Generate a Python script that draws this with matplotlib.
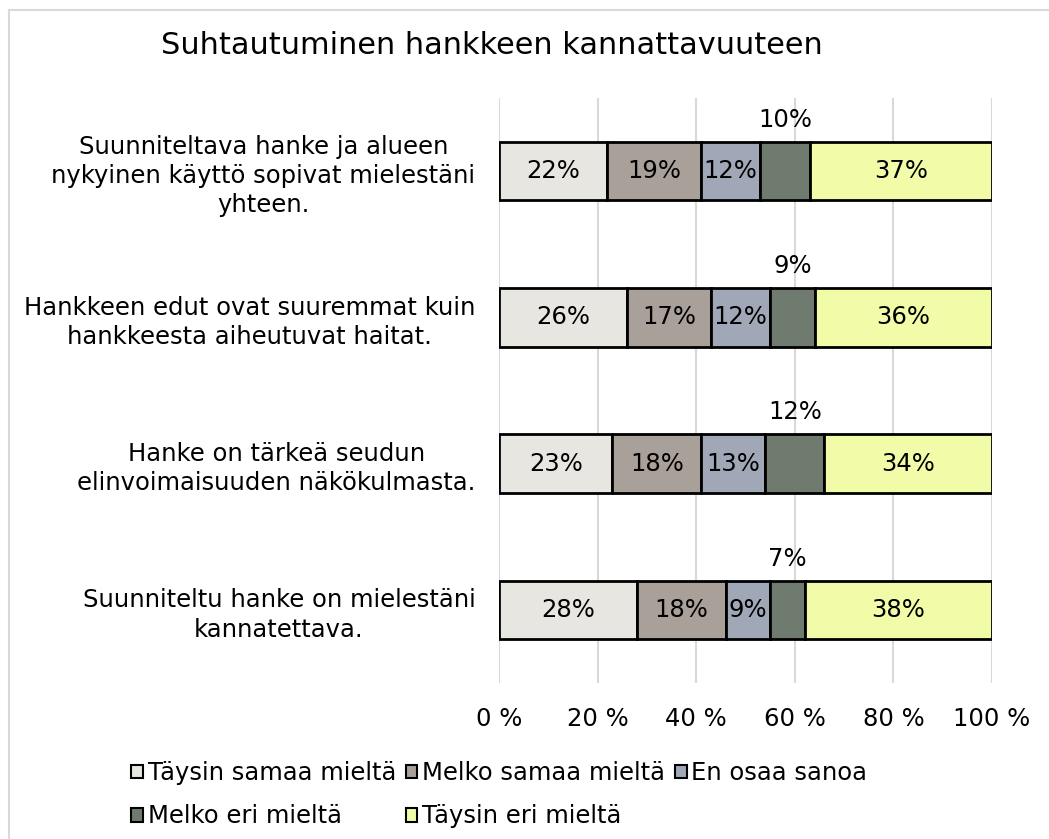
import matplotlib
matplotlib.use("Agg")
import matplotlib.pyplot as plt
from matplotlib.patches import Patch
from matplotlib.lines import Line2D
import numpy as np

plt.rcParams['font.family'] = ['DejaVu Sans']

title = "Suhtautuminen hankkeen kannattavuuteen"
categories = [
    "Suunniteltava hanke ja alueen\nnykyinen käyttö sopivat mielestäni\nyhteen.",
    "Hankkeen edut ovat suuremmat kuin\nhankkeesta aiheutuvat haitat.",
    "Hanke on tärkeä seudun\nelinvoimaisuuden näkökulmasta.",
    "Suunniteltu hanke on mielestäni\nkannatettava.",
]
series_names = ["Täysin samaa mieltä", "Melko samaa mieltä", "En osaa sanoa",
                "Melko eri mieltä", "Täysin eri mieltä"]
taysin_samaa = [22, 26, 23, 28]
melko_samaa = [19, 17, 18, 18]
en_osaa = [12, 12, 13, 9]
melko_eri = [10, 9, 12, 7]
taysin_eri = [37, 36, 34, 38]
series = [taysin_samaa, melko_samaa, en_osaa, melko_eri, taysin_eri]
colors = ["#E8E6E0", "#A9A09A", "#A0A8B8", "#707B6F", "#F2FCA8"]
xticks = [0, 20, 40, 60, 80, 100]
xticklabels = ["0 %", "20 %", "40 %", "60 %", "80 %", "100 %"]

FS = 17.5
W, H = 1049, 839
fig = plt.figure(figsize=(W / 100, H / 100), dpi=100)
ax = fig.add_axes([499 / W, 1 - 683 / H, (992 - 499) / W, (683 - 98) / H])

y = np.arange(len(categories))
left = np.zeros(len(categories))
for si, (vals, c, name) in enumerate(zip(series, colors, series_names)):
    vals = np.array(vals, dtype=float)
    ax.barh(y, vals, left=left, height=0.4, color=c, edgecolor="black",
            linewidth=2, zorder=3)
    for yi, l, v in zip(y, left, vals):
        if si == 3:
            # small segment: label above the bar
            ax.text(l + v / 2, yi - 0.35, f"{int(v)}%", ha="center", va="center",
                    fontsize=FS, color="black", zorder=4)
        else:
            ax.text(l + v / 2, yi, f"{int(v)}%", ha="center", va="center",
                    fontsize=FS, color="black", zorder=4)
    left += vals

ax.set_xlim(0, 100)
ax.set_ylim(len(categories) - 0.5, -0.5)
ax.set_xticks(xticks)
ax.set_xticklabels(xticklabels, fontsize=FS)
ax.set_yticks(y)
ax.set_yticklabels(categories, fontsize=FS, multialignment="center",
                   linespacing=1.27)
ax.tick_params(axis="both", length=0)
ax.tick_params(axis="x", pad=17)
ax.tick_params(axis="y", pad=17)
ax.grid(axis="x", color="#D9D9D9", linewidth=1.5, zorder=0)
for s in ax.spines.values():
    s.set_visible(False)

fig.text(492 / W, 1 - 45 / H, title, ha="center", va="center", fontsize=21.9)

handles = [Patch(facecolor=c, edgecolor="black", linewidth=1.5) for c in colors]
order = [0, 3, 1, 4, 2]
leg = fig.legend([handles[i] for i in order], [series_names[i] for i in order],
                 loc="upper left", bbox_to_anchor=(131 / W, 1 - 761 / H), ncol=3,
                 frameon=False, fontsize=FS, handlelength=0.48, handleheight=0.48,
                 handletextpad=0.2, columnspacing=0.4, borderpad=0,
                 labelspacing=0.8, borderaxespad=0)

# outer border (top and left visible)
fig.add_artist(Line2D([8.5 / W, 8.5 / W], [0, 1 - 9.5 / H], transform=fig.transFigure,
                      color="#D9D9D9", linewidth=1.5))
fig.add_artist(Line2D([8.5 / W, 1], [1 - 9.5 / H, 1 - 9.5 / H], transform=fig.transFigure,
                      color="#D9D9D9", linewidth=1.5))

fig.savefig("out.png", dpi=100, facecolor="white")
